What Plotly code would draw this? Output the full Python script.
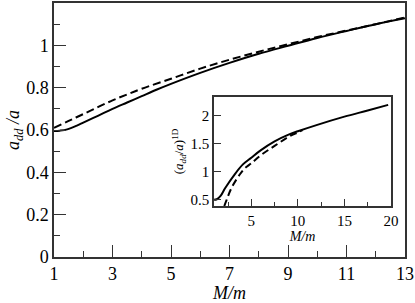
import plotly.graph_objects as go

# Main panel data
main_solid_x = [1, 1.2, 1.45, 1.8, 2.0, 2.5, 3, 3.5, 4, 4.5, 5, 6, 7, 8, 9, 10, 11, 12, 13]
main_solid_y = [0.595, 0.597, 0.603, 0.622, 0.635, 0.667, 0.70, 0.73, 0.76, 0.79, 0.818, 0.87, 0.917, 0.96, 0.998, 1.035, 1.068, 1.10, 1.128]
main_dash_x = [1, 1.5, 2, 2.5, 3, 3.5, 4, 5, 6, 7, 8, 9, 10, 11, 12, 13]
main_dash_y = [0.61, 0.643, 0.675, 0.708, 0.74, 0.768, 0.795, 0.842, 0.89, 0.932, 0.97, 1.005, 1.039, 1.07, 1.10, 1.132]

# Inset data
ins_solid_x = [1, 1.3, 1.7, 2.2, 3.2, 4.1, 5, 6, 7.5, 9, 10, 12, 15, 17.5, 19.7]
ins_solid_y = [0.5, 0.51, 0.57, 0.71, 0.95, 1.13, 1.25, 1.38, 1.54, 1.66, 1.72, 1.83, 1.98, 2.09, 2.19]
ins_dash_x = [2.1, 2.35, 2.9, 3.8, 4.3, 5, 6, 7.5, 9, 10, 10.5]
ins_dash_y = [0.39, 0.5, 0.72, 0.96, 1.06, 1.15, 1.29, 1.46, 1.62, 1.70, 1.74]

main_xticks = [1, 3, 5, 7, 9, 11, 13]
main_yticks = [0, 0.2, 0.4, 0.6, 0.8, 1]
main_ytick_text = ["0", "0.2", "0.4", "0.6", "0.8", "1"]
ins_xticks = [5, 10, 15, 20]
ins_yticks = [0.5, 1, 1.5, 2]
ins_ytick_text = ["0.5", "1", "1.5", "2"]

LC = "#000000"
FR = "#333333"
FONT = "Times New Roman, Liberation Serif, serif"

fig = go.Figure()
fig.add_trace(go.Scatter(x=main_solid_x, y=main_solid_y, mode="lines", line=dict(color=LC, width=2, shape="spline"), xaxis="x", yaxis="y"))
fig.add_trace(go.Scatter(x=main_dash_x, y=main_dash_y, mode="lines", line=dict(color=LC, width=2, dash="8px,4px", shape="spline"), xaxis="x", yaxis="y"))
fig.add_trace(go.Scatter(x=ins_solid_x, y=ins_solid_y, mode="lines", line=dict(color=LC, width=2, shape="spline"), xaxis="x2", yaxis="y2"))
fig.add_trace(go.Scatter(x=ins_dash_x, y=ins_dash_y, mode="lines", line=dict(color=LC, width=2, dash="7px,4px", shape="spline"), xaxis="x2", yaxis="y2"))

fig.update_layout(
    width=415, height=303,
    margin=dict(l=54, r=10, t=3, b=46, autoexpand=False),
    paper_bgcolor="white", plot_bgcolor="white",
    showlegend=False,
    font=dict(family=FONT, color="black"),
    xaxis=dict(
        domain=[0, 1], range=[1, 13], tickvals=main_xticks, ticks="inside", ticklen=12, tickwidth=1.2,
        tickcolor=FR, showline=True, linecolor=FR, linewidth=1.5, mirror=True, showgrid=False, zeroline=False,
        tickfont=dict(size=18, family=FONT), automargin=False,
        minor=dict(dtick=1, tick0=1, ticks="inside", ticklen=6, tickwidth=1.2, tickcolor=FR, showgrid=False),
        title=dict(text="<i>M/m</i>", font=dict(size=18, family=FONT), standoff=4),
    ),
    yaxis=dict(
        domain=[0, 1], range=[0, 1.2], tickvals=main_yticks, ticktext=main_ytick_text, ticks="inside", ticklen=12, tickwidth=1.2,
        tickcolor=FR, showline=True, linecolor=FR, linewidth=1.5, mirror=True, showgrid=False, zeroline=False,
        tickfont=dict(size=18, family=FONT), automargin=False,
        minor=dict(dtick=0.1, tick0=0, ticks="inside", ticklen=6, tickwidth=1.2, tickcolor=FR, showgrid=False),
        title=dict(text="<i>a</i><sub><i>dd</i></sub><i> /a</i>", font=dict(size=18, family=FONT), standoff=0),
    ),
    xaxis2=dict(
        domain=[0.456, 0.96], anchor="y2", range=[1, 20], tickvals=ins_xticks, ticks="inside", ticklen=7, tickwidth=1.2,
        tickcolor=FR, showline=True, linecolor=FR, linewidth=1.5, mirror=True, showgrid=False, zeroline=False,
        tickfont=dict(size=15, family=FONT), automargin=False,
        minor=dict(dtick=2.5, tick0=0, ticks="inside", ticklen=4, tickwidth=1.2, tickcolor=FR, showgrid=False),
        title=dict(text="<i>M/m</i>", font=dict(size=14, family=FONT), standoff=2),
    ),
    yaxis2=dict(
        domain=[0.2008, 0.63], anchor="x2", range=[0.39, 2.33], tickvals=ins_yticks, ticktext=ins_ytick_text, ticks="inside", ticklen=7, tickwidth=1.2,
        tickcolor=FR, showline=True, linecolor=FR, linewidth=1.5, mirror=True, showgrid=False, zeroline=False,
        tickfont=dict(size=15, family=FONT), automargin=False,
        title=dict(text="(<i>a</i><sub><i>dd</i></sub>/<i>a</i>)<sup>1D</sup>", font=dict(size=13, family=FONT), standoff=4),
    ),
)

fig.write_html("out.html", config={"displayModeBar": False},
               post_script="document.body.style.margin='0';document.body.style.padding='0';")
